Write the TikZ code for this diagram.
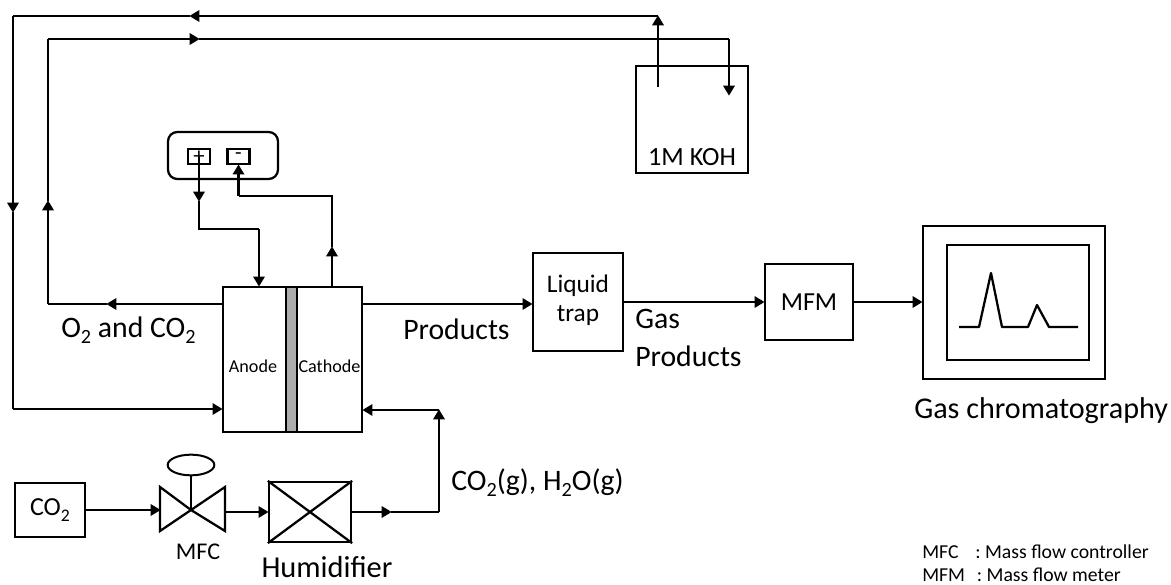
\documentclass[tikz,border=0pt]{standalone}
\usepackage{fontspec}
\setmainfont{Carlito}
\usetikzlibrary{arrows.meta,shapes.geometric}
\newcommand{\subtwo}{\raisebox{-0.45ex}{\scalebox{0.68}{2}}}
\tikzset{
  x=0.75pt,y=-0.75pt,
  box/.style={draw=black,line width=1.7pt,fill=white,inner sep=0pt,align=center,font=\fontsize{19.5}{21.5}\selectfont},
  conn/.style={line width=1.7pt,draw=black,line join=miter},
  tip/.style={conn,-{Triangle[length=7.5pt,width=8.5pt]},shorten >=-0.5pt},
  lab/.style={inner sep=0pt,anchor=base west,font=\fontsize{22.3}{26}\selectfont},
  small/.style={inner sep=0pt,font=\fontsize{13.6}{16}\selectfont},
  legend/.style={inner sep=0pt,anchor=base west,font=\fontsize{14.8}{17}\selectfont},
}
\begin{document}
\begin{tikzpicture}
\useasboundingbox (0,0) rectangle (1171,585);
% boxes
\node[box,minimum width=84pt,minimum height=80.25pt] (koh) at (692,119.5) {};
\node[inner sep=0pt,font=\fontsize{19.7}{22}\selectfont] (kohl) at (692,157) {1M KOH};
\node[box,rounded corners=7pt,minimum width=82.5pt,minimum height=35.25pt] (ps) at (223,155.5) {};
\node[box,minimum width=16.5pt,minimum height=11.25pt,font=\fontsize{16}{14}\selectfont] (plus) at (199,156.5) {};
\node[inner sep=0pt,font=\fontsize{17}{14}\selectfont] (plust) at (199,157) {+};
\node[box,minimum width=16.5pt,minimum height=11.25pt,font=\fontsize{16}{14}\selectfont] (minus) at (238.5,156.5) {-};
\node[box,minimum width=104.25pt,minimum height=108.75pt] (cell) at (292.5,359.5) {};
\node[draw=black,line width=1.5pt,fill=black!32!white,inner sep=0pt,minimum width=8.25pt,minimum height=108.75pt] (mem) at (291.5,359.5) {};
\node[small] (an) at (253,366) {Anode};
\node[small] (ca) at (329.5,366) {Cathode};
\node[box,minimum width=67.5pt,minimum height=73.5pt] (trap) at (578,302) {};
\node[inner sep=0pt,align=center,font=\fontsize{19}{21.5}\selectfont] (trapl) at (578,300) {Liquid\\trap};
\node[box,minimum width=66pt,minimum height=57pt] (mfm) at (809,302) {MFM};
\node[box,minimum width=136.5pt,minimum height=114.75pt] (gco) at (1014,302.5) {};
\node[box,minimum width=106.5pt,minimum height=86.25pt] (gci) at (1018,302.5) {};
\node[box,minimum width=52.5pt,minimum height=40pt] (co2) at (50,510) {CO\subtwo};
\node[box,minimum width=61.5pt,minimum height=45pt] (hum) at (310,512) {};
\draw[conn] (hum.north west) -- (hum.south east) (hum.north east) -- (hum.south west);
% valve
\coordinate (vc) at (191,510);
\coordinate (vl) at (160,510);
\coordinate (vr) at (225,512);
\draw[conn,line join=miter] (vc) -- (160,487) -- (160,531) -- cycle;
\draw[conn,line join=miter] (vc) -- (225,487) -- (225,531) -- cycle;
\node[draw=black,line width=1.5pt,ellipse,inner sep=0pt,minimum width=35pt,minimum height=15.5pt] (mfcv) at (191,465) {};
\draw[conn] (mfcv.south) -- (vc);
% outer recirculation loop
\coordinate (ka) at (658,87);
\coordinate (kb) at (658,16);
\coordinate (kc) at (190,16);
\coordinate (kd) at (13,16);
\coordinate (ke) at (13,212);
\coordinate (kf) at (13,409);
\draw[tip] (ka) -- (kb);
\draw[tip] (kb) -- (kc);
\draw[conn] (kc) -- (kd);
\draw[tip] (kd) -- (ke);
\draw[conn] (ke) -- (kf);
\draw[tip] (kf) -- (kf -| cell.west);
% inner recirculation loop
\coordinate (la) at (48,304);
\coordinate (lb) at (107,304);
\coordinate (lc) at (48,201);
\coordinate (ld) at (48,39);
\coordinate (le) at (199,39);
\coordinate (lf) at (729,39);
\coordinate (lg) at (729,95);
\draw[tip] (lb -| cell.west) -- (lb);
\draw[conn] (lb) -- (la);
\draw[tip] (la) -- (lc);
\draw[conn] (lc) -- (ld);
\draw[tip] (ld) -- (le);
\draw[conn] (le) -- (lf);
\draw[tip] (lf) -- (lg);
% electrical
\coordinate (pa) at (199,201);
\coordinate (pb) at (199,229);
\coordinate (pc) at (259,229);
\draw[tip] (plus.center) -- (pa);
\draw[conn] (pa) -- (pb) -- (pc);
\draw[tip] (pc) -- (pc |- cell.north);
\coordinate (ma) at (332,247);
\coordinate (mb) at (332,196);
\coordinate (mc) at (238.5,196);
\draw[tip] (ma |- cell.north) -- (ma);
\draw[conn] (ma) -- (mb) -- (mc);
\draw[tip] (mc) -- (minus.south);
% gas line
\coordinate (ga) at (439,512);
\coordinate (gb) at (439,410);
\coordinate (hout) at (391,512);
\draw[tip] (co2.east |- vl) -- (vl);
\draw[tip] (vr) -- (vr -| hum.west);
\draw[tip] (hum.east) -- (hout);
\draw[conn] (hout) -- (ga);
\draw[tip] (ga) -- (gb);
\draw[tip] (gb) -- (gb -| cell.east);
% process line
\draw[tip] (cell.east |- lb) -- (trap.west |- lb);
\draw[tip] (trap.east) -- (mfm.west);
\draw[tip] (mfm.east) -- (mfm.east -| gco.west);
% chromatogram
\draw[conn,line join=round] (959,327) -- (979,327) -- (991,273) -- (1002,327) -- (1028,327) -- (1037,305) -- (1049,327) -- (1078,327);
% labels
\node[lab] (l1) at (61,337) {O\subtwo{} and CO\subtwo};
\node[lab] (l2) at (403,339) {Products};
\node[lab] (l3a) at (635,328) {Gas};
\node[lab] (l3b) at (635,366) {Products};
\node[lab] (l4) at (451,490) {CO\subtwo(g), H\subtwo O(g)};
\node[inner sep=0pt,font=\fontsize{18}{20}\selectfont] (l5) at (198,552) {MFC};
\node[inner sep=0pt,font=\fontsize{22.8}{26}\selectfont] (l6) at (327,567) {Humidifier};
\node[lab,font=\fontsize{22.6}{26}\selectfont] (l7) at (914,418) {Gas chromatography};
\node[legend] (l8) at (922,558) {MFC\hspace{0.85em}: Mass flow controller};
\node[legend] (l9) at (922,581) {MFM\hspace{0.6em}: Mass flow meter};
\end{tikzpicture}
\end{document}
